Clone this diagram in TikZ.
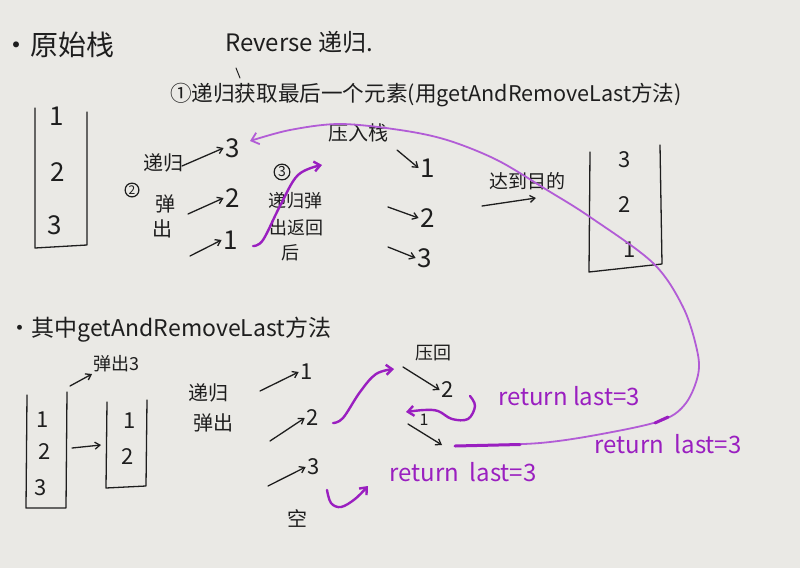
\documentclass[tikz,border=0pt]{standalone}
\usepackage{fontspec}
\setmainfont{Noto Sans CJK SC}
\usetikzlibrary{arrows.meta}
\definecolor{paper}{HTML}{EAE9E5}
\definecolor{inkc}{HTML}{1E1E1E}
\definecolor{purp}{HTML}{9A1FC0}
\definecolor{purl}{HTML}{B25CD6}
\newcommand{\fs}[1]{\fontsize{#1}{#1}\selectfont}
\begin{document}
\begin{tikzpicture}[x=1pt,y=-1pt,
  ink/.style={draw=inkc,line width=1.3pt,line cap=round,line join=round},
  arr/.style={ink,-{Straight Barb[length=5pt,width=7pt]}},
  pen/.style={draw=purp,line width=2.4pt,line cap=round,line join=round},
  penarr/.style={pen,-{Straight Barb[length=6pt,width=10pt]}},
  penl/.style={draw=purl,line width=1.8pt,line cap=round},
  txt/.style={text=inkc,inner sep=1pt},
  ptxt/.style={text=purp,inner sep=1pt,font=\fs{24}},
  num/.style={text=inkc,inner sep=2pt,font=\fs{26}},
  snum/.style={text=inkc,inner sep=2pt,font=\fs{22}},
  circ/.style={draw=inkc,line width=1.2pt,circle,inner sep=1pt,text=inkc}]
\fill[paper] (0,0) rectangle (800,568);
\useasboundingbox (0,0) rectangle (800,568);

% ---------- titles ----------
\node[txt,font=\fs{28}] (t1) at (58,45) {·原始栈};
\node[txt,font=\fs{24}] (t2) at (299,42) {Reverse 递归.};
\coordinate (tk1) at (236,68); \coordinate (tk2) at (240,78);
\draw[ink,line width=1pt] (tk1) -- (tk2);
\node[txt,font=\fs{21.6}] (t3) at (426,95) {①递归获取最后一个元素(用getAndRemoveLast方法)};

% ---------- original stack ----------
\coordinate (s1a) at (35,108); \coordinate (s1b) at (35,248);
\coordinate (s1c) at (87,245); \coordinate (s1d) at (87,112);
\draw[ink] (s1a) -- (s1b) -- (s1c) -- (s1d);
\node[num] (o1) at (57,116) {1};
\node[num] (o2) at (58,172) {2};
\node[num] (o3) at (55,225) {3};

% ---------- step 2 ----------
\node[circ,font=\fs{12}] (c2) at (132,190) {2};
\node[txt,font=\fs{20}] (d1) at (163,163) {递归};
\node[txt,font=\fs{20}] (d2) at (165,204) {弹};
\node[txt,font=\fs{20}] (d3) at (162,229) {出};
\node[num] (u3) at (233,148) {3};
\node[num] (u2) at (233,198) {2};
\node[num] (u1) at (231,240) {1};
\coordinate (a3) at (182,166); \coordinate (a2) at (188,214); \coordinate (a1) at (190,256);
\draw[arr] (a3) -- (u3.west);
\draw[arr] (a2) -- (u2.west);
\draw[arr] (a1) -- (u1.west);

% ---------- step 3 ----------
\node[circ,font=\fs{14}] (c3) at (282,172) {3};
\node[txt,font=\fs{18}] (e1) at (295,201) {递归弹};
\node[txt,font=\fs{18}] (e2) at (296,228) {出返回};
\node[txt,font=\fs{18}] (e3) at (290,253) {后};
\coordinate (p3s) at (253,246); \coordinate (p3e) at (322,165);
\draw[penarr] plot[smooth,tension=0.6] coordinates {(p3s) (263,240) (280,206) (298,175) (p3e)};

% ---------- push ----------
\node[txt,font=\fs{20}] (push) at (358,133) {压入栈};
\node[num] (v1) at (428,168) {1};
\node[num] (v2) at (428,218) {2};
\node[num] (v3) at (425,258) {3};
\coordinate (b1) at (397,150); \coordinate (b2) at (388,207); \coordinate (b3) at (388,247);
\draw[arr] (b1) -- (v1.west);
\draw[arr] (b2) -- (v2.west);
\draw[arr] (b3) -- (v3.west);

\node[txt,font=\fs{19}] (goal) at (527,181) {达到目的};
\coordinate (g1) at (482,206); \coordinate (g2) at (536,198);
\draw[arr] (g1) -- (g2);

% ---------- result stack ----------
\coordinate (s2a) at (590,152); \coordinate (s2b) at (589,272);
\coordinate (s2c) at (662,264); \coordinate (s2d) at (660,145);
\draw[ink] (s2a) -- (s2b) -- (s2c) -- (s2d);
\node[snum] (r3) at (625,160) {3};
\node[snum] (r2) at (625,205) {2};
\node[snum] (r1) at (630,250) {1};

% ---------- getAndRemoveLast ----------
\node[txt,font=\fs{23}] (t4) at (170,330) {·其中getAndRemoveLast方法};
\node[txt,font=\fs{18}] (pop3) at (116,364) {弹出3};
\coordinate (pa) at (70,386); \coordinate (pb) at (92,374);
\draw[arr] (pa) -- (pb);

\coordinate (s3a) at (27,395); \coordinate (s3b) at (26,508);
\coordinate (s3c) at (66,508); \coordinate (s3d) at (67,392);
\draw[ink] (s3a) -- (s3b) -- (s3c) -- (s3d);
\node[snum] (x1) at (43,420) {1};
\node[snum] (x2) at (45,452) {2};
\node[snum] (x3) at (41,488) {3};
\coordinate (m1) at (72,448); \coordinate (m2) at (101,445);
\draw[arr] (m1) -- (m2);
\coordinate (s4a) at (107,402); \coordinate (s4b) at (106,488);
\coordinate (s4c) at (146,486); \coordinate (s4d) at (147,400);
\draw[ink] (s4a) -- (s4b) -- (s4c) -- (s4d);
\node[snum] (y1) at (130,421) {1};
\node[snum] (y2) at (128,457) {2};

\node[txt,font=\fs{20}] (f1) at (208,393) {递归};
\node[txt,font=\fs{20}] (f2) at (213,423) {弹出};
\node[snum] (w1) at (307,372) {1};
\node[snum] (w2) at (313,418) {2};
\node[snum] (w3) at (314,467) {3};
\node[txt,font=\fs{20}] (empty) at (297,518) {空};
\coordinate (h1) at (260,391); \coordinate (h2) at (270,441); \coordinate (h3) at (268,486);
\draw[arr] (h1) -- (w1.west);
\draw[arr] (h2) -- (w2.west);
\draw[arr] (h3) -- (w3.west);

% purple returns
\coordinate (q1s) at (333,423); \coordinate (q1e) at (394,369);
\draw[penarr] plot[smooth,tension=0.6] coordinates {(q1s) (343,418) (360,392) (376,374) (q1e)};
\coordinate (q2s) at (327,490); \coordinate (q2e) at (368,486);
\draw[penarr] plot[smooth,tension=0.6] coordinates {(q2s) (331,503) (341,507) (355,499) (q2e)};
\node[ptxt] (ret1) at (463,472) {return\ \ last=3};

\node[txt,font=\fs{18}] (back) at (433,353) {压回};
\node[snum] (z2) at (448,390) {2};
\coordinate (k1) at (403,367);
\draw[arr] (k1) -- (z2.west);
\node[ptxt] (ret2) at (569,396) {return last=3};
\coordinate (q3s) at (470,396); \coordinate (q3e) at (406,412);
\draw[penarr] plot[smooth,tension=0.6] coordinates {(q3s) (475,406) (468,419) (452,419) (438,411) (424,410) (q3e)};
\node[snum,font=\fs{16}] (z1) at (424,420) {1};
\coordinate (k2) at (408,424); \coordinate (k3) at (442,445);
\draw[arr] (k2) -- (k3);

\node[ptxt] (ret3) at (668,444) {return\ \ last=3};

% big return curve to 3
\coordinate (bs) at (455,446);
\draw[penl,-{Straight Barb[length=7pt,width=12pt]}] plot[smooth,tension=0.55] coordinates {(bs) (540,443) (607,433) (663,420) (686,403) (698,375) (697,350) (683,307) (653,263) (590,217) (547,190) (497,160) (447,140) (400,130) (340,124) (290,130) (250,141)};
\draw[pen,line width=3pt] (bs) -- (520,444.5);
\draw[pen,line width=3pt] (655,423) -- (668,417);
\end{tikzpicture}
\end{document}
